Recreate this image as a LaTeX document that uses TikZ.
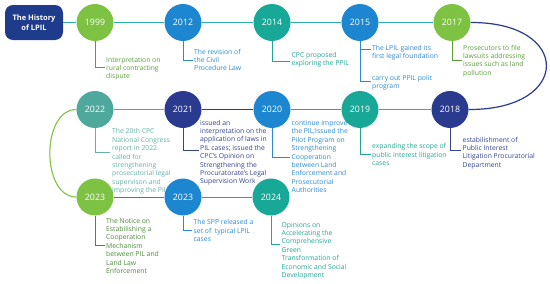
\documentclass[tikz,border=0pt]{standalone}
\usepackage{fontspec}
\setmainfont{Open Sans}
\usetikzlibrary{backgrounds}
\definecolor{cTitle}{HTML}{1F3C8C}
\definecolor{cGreen}{HTML}{7DC242}
\definecolor{cBlue}{HTML}{1C87D0}
\definecolor{cTeal}{HTML}{17A898}
\definecolor{cNavy}{HTML}{293A8F}
\definecolor{cMute}{HTML}{4FA89C}
\definecolor{tGreen}{HTML}{5A9E36}
\definecolor{tDGreen}{HTML}{4A8A3C}
\definecolor{tBlue}{HTML}{2A8AD0}
\definecolor{tTeal}{HTML}{22A596}
\definecolor{tNavy}{HTML}{34448F}
\definecolor{tMute}{HTML}{62B2A6}
\definecolor{cRow}{HTML}{30AABD}
\definecolor{cCyan}{HTML}{2A9BC8}
\begin{document}
\begin{tikzpicture}[x=1pt,y=-1pt,
  yr/.style={circle, minimum size=37pt, inner sep=0pt, fill=#1, text=white, font=\fontsize{8.8}{10}\selectfont},
  lbl/.style={anchor=north west, inner sep=0pt, align=left, text=#1, font=\fontsize{6.8}{8.4}\selectfont},
  brk/.style={draw=#1, line width=0.7pt},
  conn/.style={draw=#1, line width=1pt}]
\useasboundingbox (0,0) rectangle (550,284);
% labels (drawn first, circles may overlap them)
\node[lbl=tGreen] (t1999) at (106,56.1) {\strut Interpretation on\\rural contracting\\dispute};
\node[lbl=tBlue] (t2012) at (194,48.1) {\strut The revision of\\the Civil\\Procedure Law};
\node[lbl=tTeal] (t2014) at (291.5,51.1) {\strut CPC proposed\\exploring the PPIL};
\node[lbl=tBlue] (t2015a) at (372,44.1) {\strut The LPIL gained its\\first legal foundation};
\node[lbl=tBlue] (t2015b) at (372,74.1) {\strut carry out PPIL polit\\program};
\node[lbl=tGreen] (t2017) at (463,44.1) {\strut Prosecutors to file\\lawsuits addressing\\issues such as land\\pollution};
\node[lbl=tMute] (t2022) at (112,127.8) {\strut The 20th CPC\\National Congress\\report in 2022\\called for\\strengthening\\prosecutorial legal\\supervison and\\improving the PIL};
\node[lbl=tNavy] (t2021) at (200,119.1) {\strut issued an\\interpretation on the\\application of laws in\\PIL cases; issued the\\CPC's Opinion on\\Strengthening the\\Procuratorate's Legal\\Supervision Work};
\node[lbl=tBlue] (t2020) at (291.5,119.4) {\strut continue improve\\the PIL;Issued the\\Pilot Program on\\Strengthening\\Cooperation\\between Land\\Enforcement and\\Prosecutorial\\Authorities};
\node[lbl=tTeal] (t2019) at (372,142.8) {\strut expanding the scope of\\public interest litigation\\cases};
\node[lbl=tNavy] (t2018) at (462.5,136.1) {\strut estabilishment of\\Public Interest\\Litigation Procuratorial\\Department};
\node[lbl=tDGreen] (t2023a) at (106,217.1) {\strut The Notice on\\Estabilishing a\\Cooperation\\Mechanism\\between PIL and\\Land Law\\Enforcement};
\node[lbl=tBlue] (t2023b) at (193.5,218.8) {\strut The SPP released a\\set of\ \ typical LPIL\\cases};
\node[lbl=tTeal] (t2024) at (281.5,221.1) {\strut Opinions on\\Accelerating the\\Comprehensive\\Green\\Transformation of\\Economic and Social\\Development};
% title and year circles
\node[fill=cTitle, rounded corners=8pt, minimum width=58pt, minimum height=35pt, inner sep=0pt, text=white, align=center, font=\bfseries\fontsize{7.5}{9.6}\selectfont] (title) at (34,22.5) {The History\\of LPIL};
\node[yr=cGreen] (y1999) at (95,22.5) {1999};
\node[yr=cBlue]  (y2012) at (183,22.5) {2012};
\node[yr=cTeal]  (y2014) at (272,22.5) {2014};
\node[yr=cBlue]  (y2015) at (360,22.5) {2015};
\node[yr=cGreen] (y2017) at (452,22.5) {2017};
\node[yr=cMute]  (y2022) at (95,109.5) {2022};
\node[yr=cNavy]  (y2021) at (183,109.5) {2021};
\node[yr=cBlue]  (y2020) at (272,109.5) {2020};
\node[yr=cTeal]  (y2019) at (360,109.5) {2019};
\node[yr=cNavy]  (y2018) at (450,109.5) {2018};
\node[yr=cGreen] (y2023a) at (95,197) {2023};
\node[yr=cBlue]  (y2023b) at (183,197) {2023};
\node[yr=cTeal]  (y2024) at (271,197) {2024};
% bracket end points
\coordinate (k1999) at (105,67);
\coordinate (k2012) at (193,60);
\coordinate (k2014) at (290,61.5);
\coordinate (k2015a) at (371,49);
\coordinate (k2015b) at (371,81);
\coordinate (k2017) at (462,60);
\coordinate (k2022) at (110,152.5);
\coordinate (k2021) at (199,150);
\coordinate (k2020) at (290,157);
\coordinate (k2019) at (371,154);
\coordinate (k2018) at (461,150.5);
\coordinate (k2023a) at (105,245);
\coordinate (k2023b) at (192,230);
\coordinate (k2024) at (280,244.5);
\draw[brk=tGreen] (y1999.south) |- (k1999);
\draw[brk=tBlue] (y2012.south) |- (k2012);
\draw[brk=tTeal] (y2014.south) |- (k2014);
\draw[brk=tBlue] (y2015.south) |- (k2015b);
\draw[brk=tBlue] (y2015.south |- k2015a) -- (k2015a);
\draw[brk=tGreen] (y2017.south) |- (k2017);
\draw[brk=tMute] (y2022.south) |- (k2022);
\draw[brk=tNavy] (y2021.south) |- (k2021);
\draw[brk=tBlue] (y2020.south) |- (k2020);
\draw[brk=tTeal] (y2019.south) |- (k2019);
\draw[brk=tNavy] (y2018.south) |- (k2018);
\draw[brk=tDGreen] (y2023a.south) |- (k2023a);
\draw[brk=tBlue] (y2023b.south) |- (k2023b);
\draw[brk=tTeal] (y2024.south) |- (k2024);
% timeline connectors behind circles
\begin{scope}[on background layer]
\draw[conn=cRow] (title) -- (y1999) -- (y2012) -- (y2014) -- (y2015) -- (y2017);
\draw[conn=cNavy, line width=1.2pt] (y2017.east) .. controls (572,22) and (572,110) .. (y2018.east);
\draw[conn=cRow] (y2018) -- (y2019);
\draw[conn=cCyan] (y2019) -- (y2020);
\draw[conn=cNavy] (y2020) -- (y2021);
\draw[conn=cMute] (y2021) -- (y2022);
\draw[conn=cGreen, line width=1.1pt] (y2022.west) .. controls (41,109.5) and (41,197) .. (y2023a.west);
\draw[conn=cBlue] (y2023a) -- (y2023b);
\draw[conn=cCyan] (y2023b) -- (y2024);
\end{scope}
\end{tikzpicture}
\end{document}
